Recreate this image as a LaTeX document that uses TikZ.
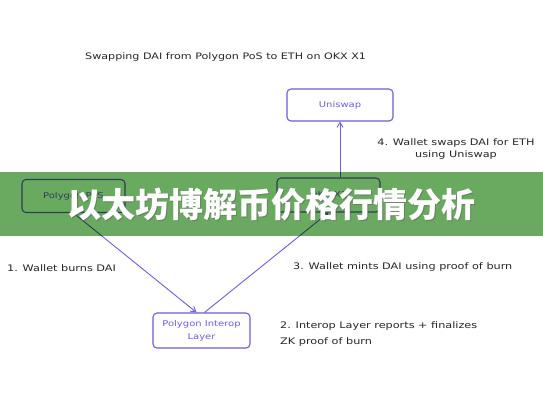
\documentclass[tikz,border=0pt]{standalone}
\usepackage{fontspec}
\setmainfont{DejaVu Sans}
\newfontfamily\cjk{Noto Sans CJK SC}
\usetikzlibrary{arrows.meta}
\definecolor{pur}{RGB}{112,92,220}
\definecolor{band}{RGB}{106,170,96}
\newcommand{\widetxt}[1]{\scalebox{1.25}[1]{#1}}
\tikzset{
  box/.style={draw=pur, line width=1.1pt, rounded corners=4pt, text=pur, font=\fontsize{8}{13}\selectfont, align=center, inner sep=0pt},
  conn/.style={draw=pur, line width=0.9pt, -{Straight Barb[length=5pt,width=6pt]}},
  lbl/.style={font=\fontsize{9}{12}\selectfont, text=black!85, inner sep=0pt},
}
\begin{document}
\begin{tikzpicture}[x=1pt,y=-1pt]
\useasboundingbox (0,0) rectangle (543,408);
\fill[white] (0,0) rectangle (543,408);
% title
\node[lbl, anchor=west, font=\fontsize{8.9}{10}\selectfont] (title) at (85,57) {\widetxt{Swapping DAI from Polygon PoS to ETH on OKX X1}};
% nodes
\node[box, minimum width=106pt, minimum height=32pt] (uni) at (340,105) {\widetxt{Uniswap}};
\node[box, minimum width=103pt, minimum height=33pt] (pos) at (73.5,196) {\widetxt{Polygon PoS}};
\node[box, minimum width=103pt, minimum height=34pt] (okx) at (328.5,195) {\widetxt{OKX X1}};
\node[box, minimum width=97pt, minimum height=35pt] (inter) at (201.5,330.5) {\widetxt{Polygon Interop}\\\widetxt{Layer}};
% connectors
\draw[conn] (okx.north -| uni.south) -- (uni.south);
\draw[conn] (pos.south) -- ([xshift=-5pt]inter.north);
\draw[conn] ([xshift=3pt]inter.north) -- (okx.south);
% labels
\node[lbl, align=center] (l4) at (456,149) {\widetxt{4. Wallet swaps DAI for ETH}\\\widetxt{using Uniswap}};
\node[lbl, anchor=west] (l1) at (7,268) {\widetxt{1. Wallet burns DAI}};
\node[lbl, anchor=west] (l3) at (293,267) {\widetxt{3. Wallet mints DAI using proof of burn}};
\node[lbl, anchor=west, align=left, font=\fontsize{9}{16}\selectfont] (l2) at (280,334) {\widetxt{2. Interop Layer reports + finalizes}\\\widetxt{ZK proof of burn}};
% banner
\fill[band, blend mode=multiply] (0,172) rectangle (543,236);
\node[text=black!60, opacity=0.6, font=\cjk\bfseries\fontsize{34}{36}\selectfont, inner sep=0pt] (shadow) at (272.5,206) {以太坊博解币价格行情分析};
\node[text=white, font=\cjk\bfseries\fontsize{34}{36}\selectfont, inner sep=0pt] (banner) at (271,205) {以太坊博解币价格行情分析};
\end{tikzpicture}
\end{document}
